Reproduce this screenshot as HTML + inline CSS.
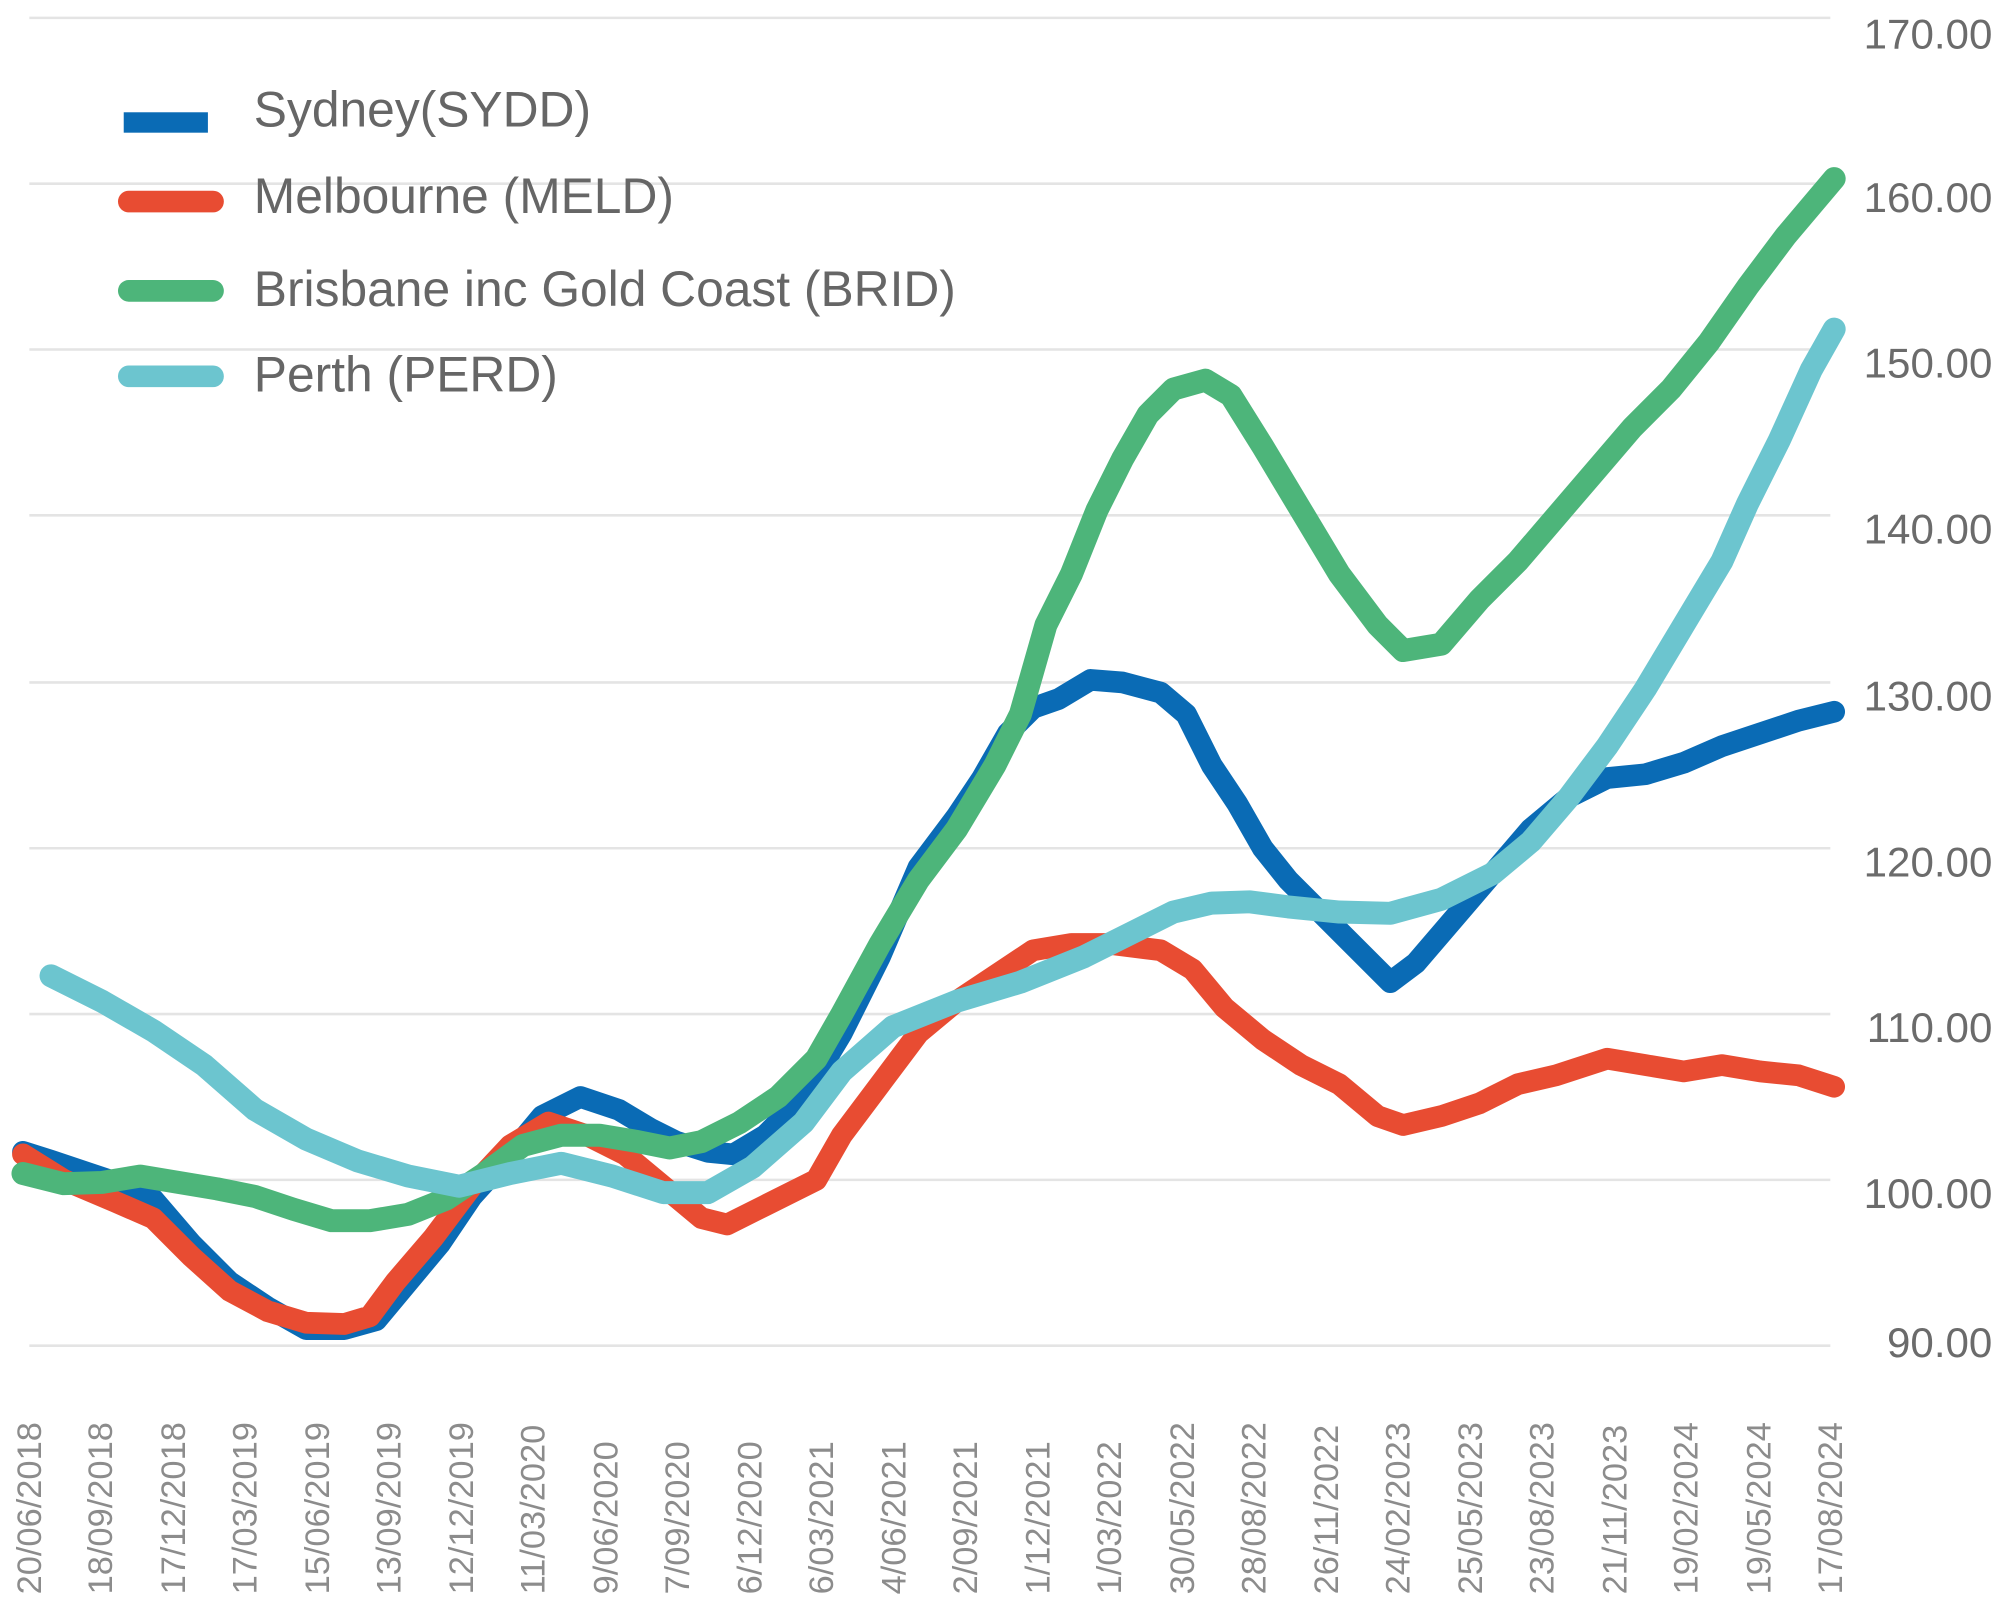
<!DOCTYPE html>
<html><head><meta charset="utf-8"><style>
html,body{margin:0;padding:0;background:#fff;}
svg{display:block;}
text{font-family:"Liberation Sans",sans-serif;}
</style></head><body>
<svg width="2000" height="1622" viewBox="0 0 1568 1271.6" xmlns="http://www.w3.org/2000/svg">
<g stroke="#e4e4e4" stroke-width="2">
<line x1="23" y1="14" x2="1435" y2="14"/>
<line x1="23" y1="144" x2="1435" y2="144"/>
<line x1="23" y1="274" x2="1435" y2="274"/>
<line x1="23" y1="404" x2="1435" y2="404"/>
<line x1="23" y1="535" x2="1435" y2="535"/>
<line x1="23" y1="665" x2="1435" y2="665"/>
<line x1="23" y1="795" x2="1435" y2="795"/>
<line x1="23" y1="925" x2="1435" y2="925"/>
<line x1="23" y1="1055" x2="1435" y2="1055"/>
</g>
<g fill="#6b6b6b" font-size="33" text-anchor="end">
<text x="1562" y="38">170.00</text>
<text x="1562" y="166">160.00</text>
<text x="1562" y="296">150.00</text>
<text x="1562" y="426">140.00</text>
<text x="1562" y="557">130.00</text>
<text x="1562" y="687">120.00</text>
<text x="1562" y="817">110.00</text>
<text x="1562" y="947">100.00</text>
<text x="1562" y="1064">90.00</text>
</g>
<g fill="#8c8c8c" font-size="27" text-anchor="start">
<text transform="translate(32,1250) rotate(-90)">20/06/2018</text>
<text transform="translate(88,1250) rotate(-90)">18/09/2018</text>
<text transform="translate(145,1250) rotate(-90)">17/12/2018</text>
<text transform="translate(201,1250) rotate(-90)">17/03/2019</text>
<text transform="translate(258,1250) rotate(-90)">15/06/2019</text>
<text transform="translate(314,1250) rotate(-90)">13/09/2019</text>
<text transform="translate(371,1250) rotate(-90)">12/12/2019</text>
<text transform="translate(427,1250) rotate(-90)">11/03/2020</text>
<text transform="translate(484,1250) rotate(-90)">9/06/2020</text>
<text transform="translate(540,1250) rotate(-90)">7/09/2020</text>
<text transform="translate(597,1250) rotate(-90)">6/12/2020</text>
<text transform="translate(653,1250) rotate(-90)">6/03/2021</text>
<text transform="translate(710,1250) rotate(-90)">4/06/2021</text>
<text transform="translate(766,1250) rotate(-90)">2/09/2021</text>
<text transform="translate(823,1250) rotate(-90)">1/12/2021</text>
<text transform="translate(879,1250) rotate(-90)">1/03/2022</text>
<text transform="translate(936,1250) rotate(-90)">30/05/2022</text>
<text transform="translate(992,1250) rotate(-90)">28/08/2022</text>
<text transform="translate(1049,1250) rotate(-90)">26/11/2022</text>
<text transform="translate(1105,1250) rotate(-90)">24/02/2023</text>
<text transform="translate(1162,1250) rotate(-90)">25/05/2023</text>
<text transform="translate(1218,1250) rotate(-90)">23/08/2023</text>
<text transform="translate(1275,1250) rotate(-90)">21/11/2023</text>
<text transform="translate(1331,1250) rotate(-90)">19/02/2024</text>
<text transform="translate(1388,1250) rotate(-90)">19/05/2024</text>
<text transform="translate(1444,1250) rotate(-90)">17/08/2024</text>
</g>
<g fill="none" stroke-linejoin="round" stroke-linecap="round">
<polyline stroke="#0a6bb5" stroke-width="17" points="18,903 40,910 70,920 100,930 120,940 150,975 180,1005 210,1025 240,1042 270,1042 295,1035 320,1005 345,975 370,938 400,905 425,875 455,860 485,870 510,885 530,895 555,903 575,905 600,890 630,860 660,810 690,750 720,680 750,640 770,610 790,575 810,555 830,548 855,533 880,535 910,543 930,560 950,600 970,630 990,665 1010,690 1040,720 1070,750 1090,770 1110,755 1140,720 1170,685 1200,650 1230,625 1260,610 1290,607 1320,598 1350,585 1380,575 1410,565 1438,558"/>
<polyline stroke="#e84c32" stroke-width="17" points="18,905 50,925 90,942 120,955 150,985 180,1012 210,1028 240,1037 270,1038 290,1032 310,1005 340,970 370,930 400,898 430,880 460,890 490,905 520,930 550,955 570,960 600,945 640,925 660,890 690,850 720,810 750,785 780,765 810,745 840,740 870,740 910,745 935,760 960,790 990,815 1020,835 1050,850 1080,875 1100,882 1130,875 1160,865 1190,850 1220,843 1260,830 1290,835 1320,840 1350,835 1380,840 1410,843 1438,852"/>
<polyline stroke="#4db57a" stroke-width="18" points="18,920 50,928 80,927 110,922 140,927 170,932 200,938 230,948 260,957 290,957 320,952 350,940 380,920 410,898 440,890 470,890 500,895 525,900 550,895 580,880 610,860 640,830 660,795 690,740 720,690 750,650 780,600 800,560 820,490 840,450 860,400 880,360 900,325 920,305 945,298 965,310 990,350 1020,400 1050,450 1080,490 1100,510 1130,505 1160,470 1190,440 1220,405 1250,370 1280,335 1310,305 1340,268 1370,225 1400,185 1438,140"/>
<polyline stroke="#6cc5cf" stroke-width="18" points="40,765 80,785 120,808 160,835 200,870 240,893 280,910 320,922 360,930 400,920 440,912 480,922 520,935 555,935 590,915 630,880 660,840 700,805 750,785 800,770 850,750 890,730 920,715 950,708 980,707 1010,711 1050,715 1090,716 1130,705 1170,685 1200,660 1230,625 1260,585 1290,540 1320,490 1350,440 1370,395 1395,345 1420,290 1438,258"/>
</g>
<rect x="97" y="88" width="66" height="16" fill="#0a6bb5"/>
<line x1="101" y1="158" x2="167" y2="158" stroke="#e84c32" stroke-width="17" stroke-linecap="round"/>
<line x1="101" y1="228" x2="167" y2="228" stroke="#4db57a" stroke-width="17" stroke-linecap="round"/>
<line x1="101" y1="295" x2="167" y2="295" stroke="#6cc5cf" stroke-width="17" stroke-linecap="round"/>
<g fill="#666" font-size="39">
<text x="199" y="99">Sydney(SYDD)</text>
<text x="199" y="167">Melbourne (MELD)</text>
<text x="199" y="240">Brisbane inc Gold Coast (BRID)</text>
<text x="199" y="307">Perth (PERD)</text>
</g>
</svg>
</body></html>
